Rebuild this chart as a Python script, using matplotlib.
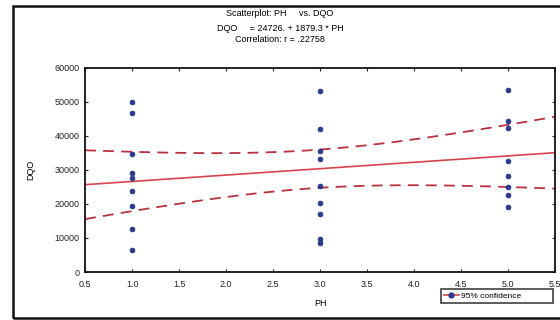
import numpy as np
from matplotlib import pyplot as plt
from matplotlib.lines import Line2D
from matplotlib.patches import Rectangle

# data read from the scanned scatterplot
ph = [1.0] * 9 + [3.0] * 9 + [5.0] * 8
dqo = [
    50000, 46600, 34700, 29000, 27500, 23800, 19500, 12500, 6500,
    53300, 42100, 35700, 33250, 25280, 20350, 16930, 9560, 8550,
    53600, 44450, 42400, 32570, 28320, 25070, 22540, 19080
]

# printed regression
b0 = 24726.0
b1 = 1879.3
r_txt = '.22758'

x_ticks = [0.5, 1.0, 1.5, 2.0, 2.5, 3.0, 3.5, 4.0, 4.5, 5.0, 5.5]
y_ticks = [0, 10000, 20000, 30000, 40000, 50000, 60000]

plt.rcParams['font.family'] = ['Liberation Sans', 'DejaVu Sans']

fig = plt.figure(figsize=(5.6, 3.2), dpi=100)
ax = fig.add_axes([0.152, 0.15, 0.839, 0.638])

x = np.array(ph)
y = np.array(dqo)
n = len(x)

# line + 95% confidence band around the printed fit
xs = np.linspace(0.5, 5.5, 100)
yhat = b0 + b1 * xs
res = y - (b0 + b1 * x)
s = np.sqrt(np.sum(res ** 2) / (n - 2))
sxx = np.sum((x - x.mean()) ** 2)
half = 2.06 * s * np.sqrt(1.0 / n + (xs - x.mean()) ** 2 / sxx)

ax.plot(xs, yhat, color='#d9434f', lw=1.2)
ax.plot(xs, yhat + half, color='#b8323f', lw=1.3, ls=(0, (6, 4)))
ax.plot(xs, yhat - half, color='#b8323f', lw=1.3, ls=(0, (6, 4)))
ax.plot(x, y, 'o', color='#2b3c94', ms=3.5, mec='#1d2a6e', mew=0.5)

ax.set_xlim(0.5, 5.5)
ax.set_ylim(0, 60000)
ax.set_xticks(x_ticks)
ax.set_xticklabels(['%.1f' % v for v in x_ticks])
ax.set_yticks(y_ticks)
ax.tick_params(direction='in', length=2.5, labelsize=6.5, top=True, right=True,
               pad=4, colors='#222222')
ax.tick_params(axis='x', pad=6)
for sp in ax.spines.values():
    sp.set_linewidth(1.3)
    sp.set_color('#111111')

ax.set_xlabel('PH', fontsize=6.5, labelpad=7)
ax.set_ylabel('DQO', fontsize=6.5, labelpad=14)

fig.text(0.5, 0.958, 'Scatterplot: PH     vs. DQO', ha='center', va='center', fontsize=6.5)
fig.text(0.5, 0.912, 'DQO     = %d. + %.1f * PH' % (b0, b1), ha='center', va='center', fontsize=6.5)
fig.text(0.5, 0.876, 'Correlation: r = ' + r_txt, ha='center', va='center', fontsize=6.5)

# legend
h = (Line2D([], [], color='#d9434f', lw=1.2),
     Line2D([], [], marker='o', color='#2b3c94', ms=3.5, ls='none'))
leg = fig.legend([h], ['95% confidence'], loc='lower left',
                 bbox_to_anchor=(0.78, 0.04, 0.215, 0.05), mode='expand',
                 fontsize=6, frameon=True, fancybox=False, borderpad=0.35,
                 handlelength=1.8, handletextpad=0.3)
leg.get_frame().set_edgecolor('#111111')
leg.get_frame().set_linewidth(1.2)

# scanned page frame
fig.add_artist(Rectangle((0.024, 0.006), 1.2, 0.976, transform=fig.transFigure,
                         fill=False, lw=1.8, color='#111111'))

fig.savefig('out.png', dpi=100)
